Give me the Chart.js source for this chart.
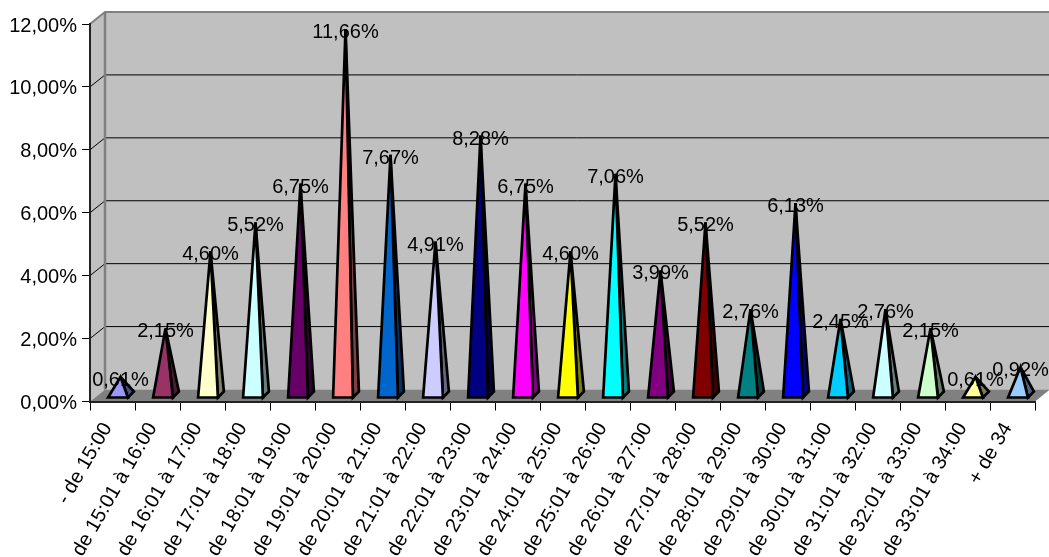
<!DOCTYPE html>
<html>
<head>
<meta charset="utf-8">
<title>Répartition</title>
<script src="https://cdn.jsdelivr.net/npm/chart.js@4"></script>
<style>
  html, body { margin: 0; padding: 0; background: #fff; overflow: hidden; }
  canvas { display: block; }
</style>
</head>
<body>
<canvas id="graph" width="1049" height="557"></canvas>
<script>
const categories = ['- de 15:00', 'de 15:01 à 16:00', 'de 16:01 à 17:00', 'de 17:01 à 18:00', 'de 18:01 à 19:00',
  'de 19:01 à 20:00', 'de 20:01 à 21:00', 'de 21:01 à 22:00', 'de 22:01 à 23:00', 'de 23:01 à 24:00',
  'de 24:01 à 25:00', 'de 25:01 à 26:00', 'de 26:01 à 27:00', 'de 27:01 à 28:00', 'de 28:01 à 29:00',
  'de 29:01 à 30:00', 'de 30:01 à 31:00', 'de 31:01 à 32:00', 'de 32:01 à 33:00', 'de 33:01 à 34:00', '+ de 34'];
const valeurs = [0.61, 2.15, 4.60, 5.52, 6.75, 11.66, 7.67, 4.91, 8.28, 6.75, 4.60, 7.06, 3.99, 5.52, 2.76, 6.13, 2.45, 2.76, 2.15, 0.61, 0.92];
const couleurs = ['#9999FF', '#993366', '#FFFFCC', '#CCFFFF', '#660066', '#FF8080', '#0066CC', '#CCCCFF', '#000080', '#FF00FF', '#FFFF00',
  '#00FFFF', '#800080', '#800000', '#008080', '#0000FF', '#00CCFF', '#CCFFFF', '#CCFFCC', '#FFFF99', '#99CCFF'];
const couleursOmbre = ['#4D4D80', '#4D1A33', '#808066', '#668080', '#330033', '#804040', '#003366', '#666680', '#000040', '#800080', '#808000',
  '#008080', '#400040', '#400000', '#004040', '#000080', '#006680', '#668080', '#668066', '#80804D', '#4D6680'];

const police = '20px "Liberation Sans", Arial, sans-serif';
const profondeurX = 15, profondeurY = 12;

function pourcent(v) {
  return v.toFixed(2).replace('.', ',') + '%';
}

function poly(ctx, points, fond, trait, epaisseur) {
  ctx.beginPath();
  points.forEach((p, i) => i ? ctx.lineTo(p[0], p[1]) : ctx.moveTo(p[0], p[1]));
  ctx.closePath();
  if (fond) { ctx.fillStyle = fond; ctx.fill(); }
  if (trait) { ctx.strokeStyle = trait; ctx.lineWidth = epaisseur; ctx.lineJoin = 'miter'; ctx.miterLimit = 4; ctx.stroke(); }
}

// les murs et le sol du graphique 3D
const murs = {
  id: 'murs',
  beforeDraw(chart) {
    const ctx = chart.ctx, y = chart.scales.y, a = chart.chartArea;
    const g = a.left, d = a.right, h = y.getPixelForValue(12), b = y.getPixelForValue(0);
    const fx = profondeurX, fy = profondeurY;
    ctx.save();
    poly(ctx, [[g + fx, h - fy], [d + fx, h - fy], [d + fx, b - fy], [g + fx, b - fy]], '#C0C0C0');
    poly(ctx, [[g, h], [g + fx, h - fy], [g + fx, b - fy], [g, b]], '#C0C0C0');
    y.ticks.forEach(t => {
      if (t.value === 0) return;
      const py = y.getPixelForValue(t.value);
      ctx.beginPath();
      ctx.moveTo(g, py);
      ctx.lineTo(g + fx, py - fy);
      ctx.lineTo(d + fx, py - fy);
      ctx.strokeStyle = t.value === 12 ? '#808080' : '#000';
      ctx.lineWidth = t.value === 12 ? 2 : 1;
      ctx.stroke();
    });
    poly(ctx, [[g, b], [g + fx, b - fy], [d + fx, b - fy], [d, b]], '#808080');
    ctx.beginPath();
    ctx.moveTo(g + fx, h - fy);
    ctx.lineTo(g + fx, b - fy);
    ctx.strokeStyle = '#808080';
    ctx.lineWidth = 2.5;
    ctx.stroke();
    ctx.restore();
  }
};

// pyramides et étiquettes, posées sur les barres de Chart.js
const pyramides = {
  id: 'pyramides',
  afterDatasetsDraw(chart) {
    const ctx = chart.ctx, barres = chart.getDatasetMeta(0).data;
    ctx.save();
    barres.forEach((barre, i) => {
      const g = barre.x - barre.width / 2 + 5.5, d = barre.x + barre.width / 2 + 5.5, bas = barre.base - 3.5;
      const sommet = [barre.x + 8, barre.y - 5.5];
      poly(ctx, [[d, bas], [d + 6, bas - 6], sommet], couleursOmbre[i], '#000', 2.7);
      poly(ctx, [[g, bas], [d, bas], sommet], couleurs[i], '#000', 2.7);
    });
    ctx.font = police;
    ctx.fillStyle = '#000';
    ctx.textAlign = 'center';
    ctx.textBaseline = 'middle';
    barres.forEach((barre, i) => {
      ctx.fillText(pourcent(valeurs[i]), barre.x + 8, barre.y - 2);
    });
    ctx.restore();
  }
};

new Chart(document.getElementById('graph').getContext('2d'), {
  type: 'bar',
  data: {
    labels: categories,
    datasets: [{ data: valeurs, backgroundColor: 'transparent', borderWidth: 0, categoryPercentage: 1, barPercentage: 0.44 }]
  },
  options: {
    responsive: false,
    animation: false,
    layout: { padding: { top: 24, right: 14, left: 0, bottom: 0 } },
    plugins: { legend: { display: false }, tooltip: { enabled: false }, title: { display: false } },
    scales: {
      x: {
        afterFit(s) { s.height = 155.5; },
        grid: { drawOnChartArea: false, color: '#000', tickLength: 9, offset: true },
        border: { color: '#222', width: 2 },
        ticks: { autoSkip: false, minRotation: 60, maxRotation: 60, color: '#000', padding: 8, labelOffset: -5, font: { family: '"Liberation Sans", Arial, sans-serif', size: 20 } }
      },
      y: {
        min: 0,
        max: 12,
        afterFit(s) { s.width = 90; },
        grid: { drawOnChartArea: false, color: '#000', tickLength: 8 },
        border: { color: '#222', width: 2 },
        ticks: { stepSize: 2, color: '#000', padding: 5, labelOffset: 2, callback: v => pourcent(v), font: { family: '"Liberation Sans", Arial, sans-serif', size: 20 } }
      }
    }
  },
  plugins: [murs, pyramides]
});
</script>
</body>
</html>
